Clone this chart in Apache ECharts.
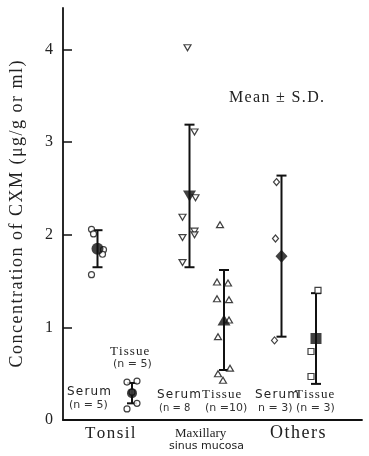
<!DOCTYPE html>
<html><head><meta charset="utf-8">
<script src="https://cdn.jsdelivr.net/npm/echarts@6/dist/echarts.min.js"></script>
<style>html,body{margin:0;padding:0;background:#fff}#c{width:369px;height:456px}</style>
</head><body><div id="c"></div>
<script>
// column slots along the x axis (Tonsil serum, Tonsil tissue, Maxillary serum, Maxillary tissue, Others serum, Others tissue)
const columnSlots = [3, 6, 11, 14, 19, 22];
const columnNames = ['Tonsil serum','Tonsil tissue','Maxillary serum','Maxillary tissue','Others serum','Others tissue'];
const means = [1.85, 0.29, 2.42, 1.08, 1.77, 0.88];
const sds   = [0.20, 0.11, 0.77, 0.54, 0.87, 0.49];
// individual observations
const tonsilSerum   = [2.06, 2.01, 1.84, 1.79, 1.57];
const tonsilTissue  = [0.41, 0.42, 0.30, 0.18, 0.12];
const maxSerum      = [4.02, 3.11, 2.40, 2.19, 2.04, 2.00, 1.97, 1.70];
const maxTissue     = [2.11, 1.49, 1.48, 1.31, 1.30, 1.08, 0.90, 0.56, 0.50, 0.43];
const othersSerum   = [2.57, 1.96, 0.86];
const othersTissue  = [1.40, 0.74, 0.47];
const yTicks = [0, 1, 2, 3, 4];

// pixel jitter (style only)
const jitter = [
  [-6,-4,6,5,-6],
  [-5,5,0,5,-5],
  [-2,5,6,-7,5,5,-7,-7],
  [-4,-7,4,-7,5,5,-6,6,-6,-1],
  [-5,-6,-7],
  [2,-5,-5]
];
const obs = [tonsilSerum, tonsilTissue, maxSerum, maxTissue, othersSerum, othersTissue];
const openSym = ['circle','circle','triangle','triangle','diamond','rect'];
const openRot = [0,0,180,0,0,0];
const openSize = [[6,6],[6,6],[7,6],[7,6],[6,7],[6,6]];
const meanSym = ['circle','circle','triangle','triangle','diamond','rect'];
const meanRot = [0,0,180,0,0,0];
const meanSize = [[12,12],[10,10],[13,11],[13,11],[12,13],[11,11]];

const serif = '"Liberation Serif","DejaVu Serif",serif';
const sans = '"DejaVu Sans","Liberation Sans",sans-serif';
const ink = '#111';
const sp = s => s.split('').join('\u200A');

const series = [];
// error bars
series.push({
  type:'custom', silent:true, z:3,
  data: columnSlots.map((x,i)=>[x, means[i]-sds[i], means[i]+sds[i]]),
  renderItem(params, api){
    const lo = api.coord([api.value(0), api.value(1)]);
    const hi = api.coord([api.value(0), api.value(2)]);
    const w = 5;
    const st = {stroke:ink, lineWidth:2};
    return {type:'group', children:[
      {type:'line', shape:{x1:lo[0],y1:lo[1],x2:hi[0],y2:hi[1]}, style:st},
      {type:'line', shape:{x1:lo[0]-w,y1:lo[1],x2:lo[0]+w,y2:lo[1]}, style:st},
      {type:'line', shape:{x1:hi[0]-w,y1:hi[1],x2:hi[0]+w,y2:hi[1]}, style:st}
    ]};
  }
});
// observations
obs.forEach((arr, g)=>{
  series.push({
    type:'scatter', z:4, silent:true,
    symbol: openSym[g], symbolRotate: openRot[g], symbolSize: openSize[g],
    itemStyle:{color:'#fff', borderColor:ink, borderWidth:1.2},
    data: arr.map((v,k)=>({value:[columnSlots[g], v], symbolOffset:[jitter[g][k],0]}))
  });
});
// means
columnSlots.forEach((x,g)=>{
  series.push({
    type:'scatter', z:5, silent:true,
    symbol: meanSym[g], symbolRotate: meanRot[g], symbolSize: meanSize[g],
    itemStyle:{color:ink},
    data:[[x, means[g]]]
  });
});

const chart = echarts.init(document.getElementById('c'));
chart.setOption({
  backgroundColor:'#fff',
  animation:false,
  grid:{left:58, right:7, top:8, bottom:36},
  xAxis:{type:'value', min:0, max:26, axisLine:{show:true, lineStyle:{color:ink, width:1.8}},
    axisTick:{show:false}, axisLabel:{show:false}, splitLine:{show:false}},
  yAxis:{type:'value', min:0, max:4.45, interval:1,
    name:sp('Concentration of CXM (μg/g or ml)'), nameLocation:'middle', nameGap:37,
    nameTextStyle:{fontFamily:serif, fontSize:18, color:'#222'},
    axisLine:{show:true, lineStyle:{color:ink, width:1.8}},
    axisTick:{show:true, inside:true, length:9, lineStyle:{color:ink, width:1.5},
      customValues: yTicks.slice(1)},
    axisLabel:{fontFamily:serif, fontSize:16, color:'#222', margin:10,
      customValues: yTicks,
      formatter:v=> (Number.isInteger(v) ? String(v) : '')},
    splitLine:{show:false}},
  series,
  graphic:[
    {type:'text', left:229, top:90, style:{text:sp('Mean ± S.D.'), font:'16px '+serif, fill:'#222'}},
    {type:'text', left:85, top:425, style:{text:sp('Tonsil'), font:'17px '+serif, fill:'#222'}},
    {type:'text', left:175, top:427, style:{text:'Maxillary', font:'13px '+serif, fill:'#222'}},
    {type:'text', left:169, top:441, style:{text:'sinus mucosa', font:'11px '+sans, fill:'#222'}},
    {type:'text', left:270, top:424, style:{text:sp('Others'), font:'18px '+serif, fill:'#222'}},
    {type:'text', left:67, top:386, style:{text:sp('Serum'), font:'12px '+sans, fill:'#222'}},
    {type:'text', left:69, top:400, style:{text:'(n = 5)', font:'11px '+sans, fill:'#333'}},
    {type:'text', left:110, top:345, style:{text:sp('Tissue'), font:'13px '+serif, fill:'#222'}},
    {type:'text', left:113, top:359, style:{text:'(n = 5)', font:'11px '+sans, fill:'#333'}},
    {type:'text', left:157, top:389, style:{text:sp('Serum'), font:'12px '+sans, fill:'#222'}},
    {type:'text', left:202, top:388, style:{text:sp('Tissue'), font:'13px '+serif, fill:'#222'}},
    {type:'text', left:159, top:403, style:{text:'(n = 8', font:'10px '+sans, fill:'#333'}},
    {type:'text', left:205, top:403, style:{text:'(n =10)', font:'11px '+sans, fill:'#333'}},
    {type:'text', left:255, top:389, style:{text:sp('Serum'), font:'12px '+sans, fill:'#222'}},
    {type:'text', left:295, top:388, style:{text:sp('Tissue'), font:'13px '+serif, fill:'#222'}},
    {type:'text', left:258, top:403, style:{text:'n = 3) (n = 3)', font:'11px '+sans, fill:'#333'}}
  ]
});
</script></body></html>
